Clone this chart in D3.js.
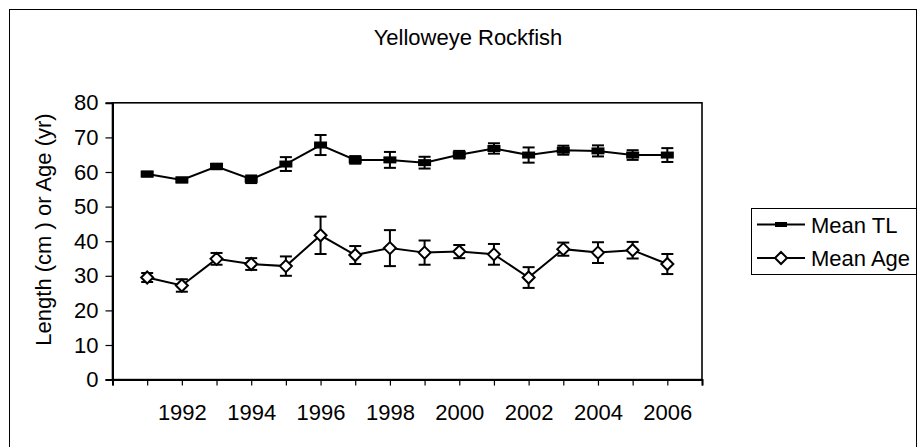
<!DOCTYPE html>
<html><head><meta charset="utf-8">
<script src="https://cdn.jsdelivr.net/npm/d3@7/dist/d3.min.js"></script>
<style>body{margin:0;background:#fff}svg{display:block}text{font-family:"Liberation Sans",Arial,sans-serif;fill:#000}</style>
</head><body><svg id="c" width="922" height="447"></svg>
<script>
const years = [1991,1992,1993,1994,1995,1996,1997,1998,1999,2000,2001,2002,2003,2004,2005,2006];
const meanTL = [59.4,57.7,61.6,57.9,62.3,67.8,63.5,63.5,62.7,65.0,66.8,64.9,66.3,66.1,64.9,64.9];
const errTL  = [0.7,0.7,0.8,1.1,2.0,2.9,1.1,2.3,1.7,1.1,1.5,2.2,1.3,1.6,1.4,2.0];
const meanAge = [29.5,27.2,34.9,33.4,32.8,41.7,36.0,38.0,36.7,37.0,36.2,29.5,37.7,36.7,37.4,33.4];
const errAge  = [1.3,1.8,1.7,1.7,2.8,5.4,2.6,5.2,3.5,1.9,3.0,3.0,1.9,3.0,2.4,2.9];
const yTicks = [0,10,20,30,40,50,60,70,80];
const xLabels = [1992,1994,1996,1998,2000,2002,2004,2006];
const title = "Yelloweye Rockfish";
const yTitle = "Length (cm ) or Age (yr)";
const seriesNames = ["Mean TL","Mean Age"];

const FS = "22px";
const svg = d3.select("#c");
svg.append("rect").attr("x",9.5).attr("y",9.5).attr("width",907).attr("height",445)
  .attr("fill","none").attr("stroke","#000").attr("stroke-width",1);

const L=112.5, R=702, T=102.8, B=379.6;
const x = d3.scaleLinear().domain([1990,2007]).range([L,R]);
const y = d3.scaleLinear().domain([0,80]).range([B,T]);

svg.append("text").attr("x",468).attr("y",44.5).attr("text-anchor","middle")
  .style("font-size",FS).text(title);

// plot frame
svg.append("rect").attr("x",L).attr("y",T).attr("width",R-L).attr("height",B-T)
  .attr("fill","none").attr("stroke","#000").attr("stroke-width",1.6);

// y axis
const ya = svg.append("g").attr("transform",`translate(${L},0)`)
  .call(d3.axisLeft(y).tickValues(yTicks).tickSize(7).tickPadding(7));
ya.select(".domain").attr("stroke","#000").attr("stroke-width",2);
ya.selectAll("line").attr("stroke","#000").attr("stroke-width",1.2);
ya.selectAll("text").style("font-size",FS).style("font-family","Liberation Sans, Arial, sans-serif");

// x axis
const allYears = d3.range(1990,2008);
const xa = svg.append("g").attr("transform",`translate(0,${B})`)
  .call(d3.axisBottom(x).tickValues(allYears).tickSize(6).tickPadding(19)
    .tickFormat(d => xLabels.includes(d) ? String(d) : ""));
xa.select(".domain").attr("stroke","#000").attr("stroke-width",2);
xa.selectAll("line").attr("stroke","#000").attr("stroke-width",1.2);
xa.selectAll("text").style("font-size",FS).style("font-family","Liberation Sans, Arial, sans-serif");

svg.append("text").attr("transform",`translate(51,229.5) rotate(-90)`).attr("text-anchor","middle")
  .style("font-size",FS).text(yTitle);

const line = d3.line().x(d=>x(d[0])).y(d=>y(d[1]));
function drawSeries(vals, errs, markerFn){
  const pts = years.map((yr,i)=>[yr,vals[i],errs[i]]);
  svg.append("path").datum(pts).attr("d",line).attr("fill","none").attr("stroke","#000").attr("stroke-width",2);
  const g = svg.append("g");
  pts.forEach(p=>{
    const cx=x(p[0]), y1=y(p[1]+p[2]), y2=y(p[1]-p[2]);
    g.append("line").attr("x1",cx).attr("x2",cx).attr("y1",y1).attr("y2",y2).attr("stroke","#000").attr("stroke-width",2);
    [y1,y2].forEach(yy=>g.append("line").attr("x1",cx-6).attr("x2",cx+6).attr("y1",yy).attr("y2",yy).attr("stroke","#000").attr("stroke-width",2));
  });
  pts.forEach(p=>markerFn(g,x(p[0]),y(p[1])));
}
const dashMarker=(g,cx,cy)=>g.append("rect").attr("x",cx-6.5).attr("y",cy-3.5).attr("width",13).attr("height",7).attr("fill","#000");
const diamondMarker=(g,cx,cy)=>g.append("path").attr("d",`M${cx},${cy-6}L${cx+6},${cy}L${cx},${cy+6}L${cx-6},${cy}Z`)
  .attr("fill","#fff").attr("stroke","#000").attr("stroke-width",2);
drawSeries(meanTL, errTL, dashMarker);
drawSeries(meanAge, errAge, diamondMarker);

// legend
const lg = svg.append("g");
lg.append("rect").attr("x",751.5).attr("y",208.5).attr("width",165).attr("height",66).attr("fill","#fff").attr("stroke","#000").attr("stroke-width",1);
const rows=[224.5,258];
rows.forEach((ry,i)=>{
  lg.append("line").attr("x1",757).attr("x2",805).attr("y1",ry).attr("y2",ry).attr("stroke","#000").attr("stroke-width",2);
  if(i===0) lg.append("rect").attr("x",775).attr("y",ry-2.5).attr("width",12).attr("height",5).attr("fill","#000");
  else diamondMarker(lg,781,ry);
  lg.append("text").attr("x",811).attr("y",ry+8).style("font-size",FS).text(seriesNames[i]);
});
</script></body></html>
